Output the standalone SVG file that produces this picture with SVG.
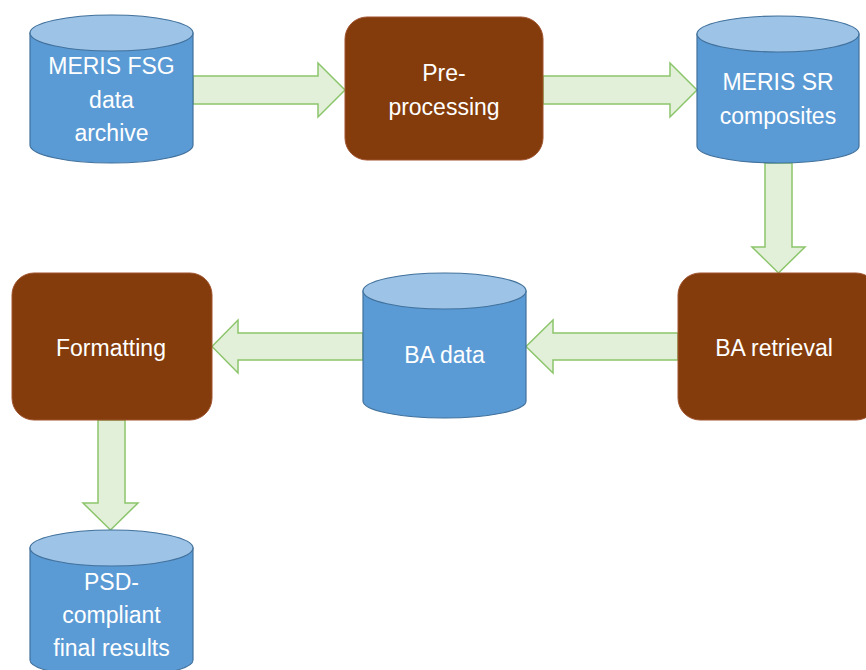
<svg xmlns="http://www.w3.org/2000/svg" width="866" height="670" viewBox="0 0 866 670">
<style>
.body{fill:#5B9BD5;stroke:#41719C;stroke-width:1.2}
.top{fill:#9DC3E6;stroke:#41719C;stroke-width:1.2}
.proc{fill:#843C0C;stroke:#A0522D;stroke-width:1}
.arr{fill:#E2F0D9;stroke:#8CC56B;stroke-width:1.5}
text{font-family:"Liberation Sans",Arial,sans-serif;font-size:23px;fill:#FFFFFF;text-anchor:middle}
</style>
<rect width="866" height="670" fill="#FFFFFF"/>
<g id="connectors">
<path class="arr" d="M193,76 H318 V63 L345,90 L318,117 V104 H193 Z"/>
<path class="arr" d="M543,76 H670 V63 L697,90 L670,117 V104 H543 Z"/>
<path class="arr" d="M765,163 V247 H752 L778.5,273 L805,247 H792 V163 Z"/>
<path class="arr" d="M678,333 H553 V320 L526,346.5 L553,373 V360 H678 Z"/>
<path class="arr" d="M363,333 H238 V320 L212,346.5 L238,373 V360 H363 Z"/>
<path class="arr" d="M98,420 V503 H83 L110.5,530 L138,503 H125 V420 Z"/>
</g>
<g id="meris-fsg">
<path class="body" d="M30,33 V145 A81.5,18 0 0 0 193,145 V33 Z"/>
<ellipse class="top" cx="111.5" cy="33" rx="81.5" ry="18"/>
<text x="111.5" y="74">MERIS FSG</text>
<text x="111.5" y="108">data</text>
<text x="111.5" y="141">archive</text>
</g>
<g id="preprocessing">
<rect class="proc" x="345" y="17" width="198" height="143" rx="22"/>
<text x="444" y="81">Pre-</text>
<text x="444" y="115">processing</text>
</g>
<g id="meris-sr">
<path class="body" d="M697,34 V146 A81,17 0 0 0 859,146 V34 Z"/>
<ellipse class="top" cx="778" cy="34" rx="81" ry="18"/>
<text x="778" y="90">MERIS SR</text>
<text x="778" y="124">composites</text>
</g>
<g id="ba-retrieval">
<rect class="proc" x="678" y="273" width="200" height="147" rx="22"/>
<text x="774" y="356">BA retrieval</text>
</g>
<g id="ba-data">
<path class="body" d="M363,291 V401 A81.5,17 0 0 0 526,401 V291 Z"/>
<ellipse class="top" cx="444.5" cy="291" rx="81.5" ry="18"/>
<text x="444.5" y="363">BA data</text>
</g>
<g id="formatting">
<rect class="proc" x="12" y="273" width="200" height="147" rx="22"/>
<text x="111" y="356">Formatting</text>
</g>
<g id="psd">
<path class="body" d="M30,548 V660 A81.5,17 0 0 0 193,660 V548 Z"/>
<ellipse class="top" cx="111.5" cy="548" rx="81.5" ry="18"/>
<text x="111.5" y="590">PSD-</text>
<text x="111.5" y="623">compliant</text>
<text x="111.5" y="656">final results</text>
</g>
</svg>
